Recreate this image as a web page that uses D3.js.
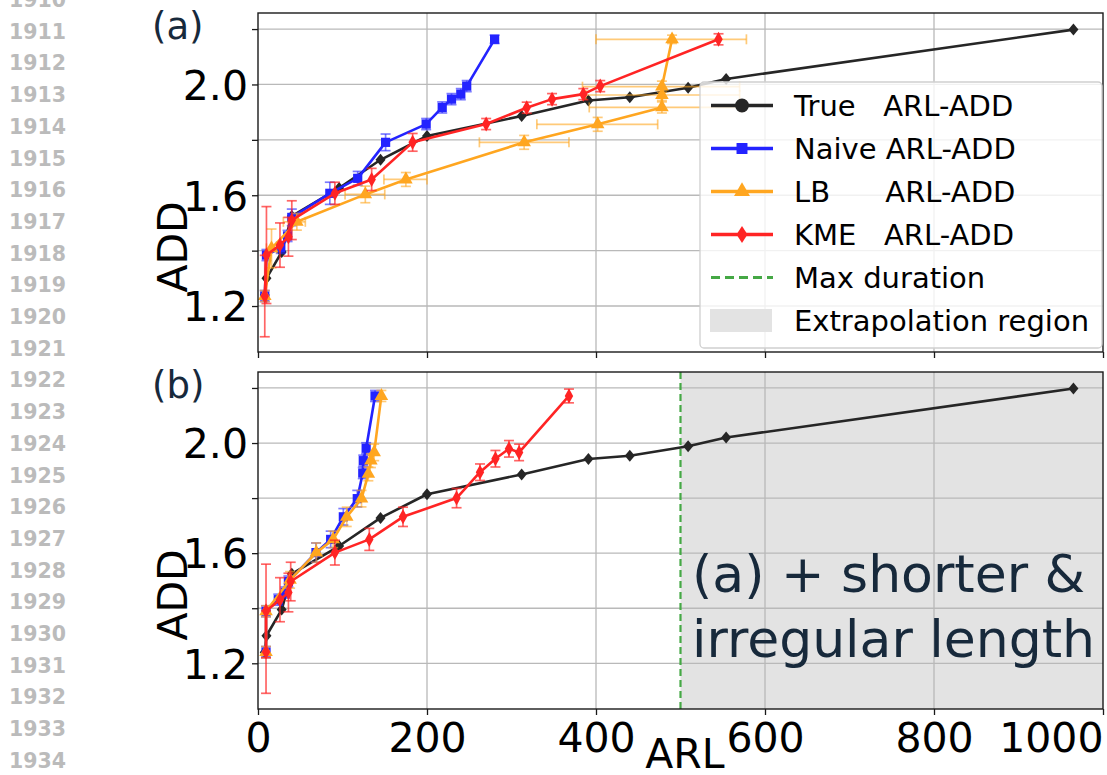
<!DOCTYPE html>
<html><head><meta charset="utf-8">
<script src="https://cdn.jsdelivr.net/npm/d3@7"></script>
<style>
body{margin:0;background:#fff}
svg{display:block}
text{font-family:"DejaVu Sans",sans-serif}
</style>
</head><body>
<svg id="c" width="1107" height="775"></svg>
<script>
// ---------------- data ----------------
const xTicks = [0, 200, 400, 600, 800, 1000];
const yTicks = [1.2, 1.4, 1.6, 1.8, 2.0, 2.2];
const yLabeled = [1.2, 1.6, 2.0];
const lineNumbers = ["1910","1911","1912","1913","1914","1915","1916","1917","1918","1919","1920","1921",
  "1922","1923","1924","1925","1926","1927","1928","1929","1930","1931","1932","1933","1934"];

// True ARL-ADD (same in both panels)
const trueARL = [8, 10, 28, 40, 96, 145, 200, 312, 391, 440, 509, 554, 965];
const trueADD = [1.24, 1.30, 1.395, 1.525, 1.626, 1.728, 1.814, 1.886, 1.942, 1.954, 1.988, 2.02, 2.198];

// Panel (a)
const naiveA_ARL = [8, 10, 27, 35, 40, 85, 118, 151, 199, 218, 229, 240, 247, 280];
const naiveA_ADD = [1.236, 1.384, 1.41, 1.453, 1.52, 1.607, 1.661, 1.791, 1.857, 1.917, 1.947, 1.965, 1.994, 2.163];
const naiveA_err = [0.02, 0.02, 0.02, 0.02, 0.03, 0.04, 0.025, 0.03, 0.02, 0.02, 0.02, 0.02, 0.02, 0.015];

const lbA_ARL = [8, 16, 46, 127, 175, 315, 402, 478, 478, 478, 490];
const lbA_ADD = [1.236, 1.408, 1.504, 1.603, 1.657, 1.791, 1.856, 1.917, 1.962, 1.992, 2.163];
const lbA_err = [0.02, 0.07, 0.03, 0.03, 0.025, 0.025, 0.025, 0.02, 0.02, 0.02, 0.015];
const lbA_lo = [6, 10, 30, 103, 149, 262, 330, 392, 388, 384, 400];
const lbA_hi = [10, 22, 56, 150, 200, 368, 473, 572, 570, 570, 578];

const kmeA_ARL = [8, 10, 26, 36, 40, 91, 134.5, 183, 270, 318, 348, 385, 405, 545];
const kmeA_ADD = [1.236, 1.384, 1.42, 1.45, 1.51, 1.607, 1.657, 1.791, 1.857, 1.916, 1.947, 1.965, 1.994, 2.163];
const kmeA_err = [0.147, 0.175, 0.08, 0.07, 0.07, 0.04, 0.04, 0.032, 0.02, 0.02, 0.02, 0.02, 0.02, 0.02];

// Panel (b)
const naiveB_ARL = [9.5, 9.5, 24, 32, 36, 68.6, 86, 101, 117.5, 124, 124.6, 128, 138.5];
const naiveB_ADD = [1.241, 1.389, 1.431, 1.457, 1.497, 1.602, 1.65, 1.732, 1.798, 1.891, 1.936, 1.981, 2.171];
const naiveB_err = [0.02, 0.02, 0.02, 0.02, 0.02, 0.035, 0.03, 0.03, 0.03, 0.02, 0.02, 0.02, 0.02];

const lbB_ARL = [9.5, 9.5, 38, 69, 89, 105, 122.5, 130.6, 133.6, 137.5, 146];
const lbB_ADD = [1.241, 1.389, 1.503, 1.602, 1.65, 1.732, 1.798, 1.888, 1.936, 1.966, 2.171];
const lbB_err = [0.02, 0.02, 0.03, 0.035, 0.03, 0.035, 0.03, 0.025, 0.025, 0.03, 0.02];

const kmeB_ARL = [9.5, 9.5, 26, 36, 38.7, 91, 131.7, 171.6, 235, 262.7, 281, 297, 309, 368];
const kmeB_ADD = [1.241, 1.39, 1.431, 1.457, 1.497, 1.602, 1.65, 1.732, 1.8, 1.894, 1.943, 1.979, 1.966, 2.171];
const kmeB_err = [0.15, 0.17, 0.08, 0.07, 0.07, 0.045, 0.04, 0.035, 0.035, 0.03, 0.03, 0.03, 0.03, 0.025];

const maxDuration = 500;
const legendLabels = ["True   ARL-ADD", "Naive ARL-ADD", "LB      ARL-ADD", "KME   ARL-ADD", "Max duration", "Extrapolation region"];
const panelLabels = ["(a)", "(b)"];
const noteLines = ["(a) + shorter &", "irregular length"];

// ---------------- drawing ----------------
const svg = d3.select("#c");
const COL = {true:"#262626", naive:"#2323ff", lb:"#ffa620", kme:"#ff2424", green:"#45a845", region:"#e3e3e3", navy:"#17293b"};
const x = d3.scaleLinear().domain([0, 1000]).range([258, 1103]);

// line numbers in the margin
svg.append("g").selectAll("text").data(lineNumbers).join("text")
  .attr("x", 9).attr("y", (d, i) => 7 + i * 31.7)
  .attr("font-family", "Liberation Sans, Arial, sans-serif").attr("font-weight", "bold")
  .attr("font-size", 20.5).attr("fill", "#bbbbbb").text(d => d);

function thinDiamond(w, h) { return `M0,${-h}L${w},0L0,${h}L${-w},0Z`; }
const markers = {
  true: () => thinDiamond(5, 6),
  naive: () => d3.symbol(d3.symbolSquare, 85)(),
  lb: () => d3.symbol(d3.symbolTriangle, 80)(),
  kme: () => thinDiamond(4.2, 7.5)
};

function drawSeries(g, y, xs, ys, key, opt) {
  opt = opt || {};
  const color = COL[key];
  const pts = xs.map((v, i) => ({x: v, y: ys[i], i}));
  const eb = g.append("g").attr("stroke", color).attr("stroke-opacity", key === "kme" ? 0.7 : 0.6)
    .attr("stroke-width", 1.7).attr("fill", "none");
  if (opt.yerr) {
    pts.forEach(p => {
      const e = opt.yerr[p.i];
      const px = x(p.x), y1 = y(p.y - e), y2 = y(p.y + e);
      eb.append("line").attr("x1", px).attr("x2", px).attr("y1", y1).attr("y2", y2);
      eb.append("line").attr("x1", px - 5).attr("x2", px + 5).attr("y1", y1).attr("y2", y1);
      eb.append("line").attr("x1", px - 5).attr("x2", px + 5).attr("y1", y2).attr("y2", y2);
    });
  }
  if (opt.xlo) {
    pts.forEach(p => {
      const py = y(p.y), x1 = x(opt.xlo[p.i]), x2 = x(opt.xhi[p.i]);
      eb.append("line").attr("x1", x1).attr("x2", x2).attr("y1", py).attr("y2", py);
      eb.append("line").attr("x1", x1).attr("x2", x1).attr("y1", py - 5).attr("y2", py + 5);
      eb.append("line").attr("x1", x2).attr("x2", x2).attr("y1", py - 5).attr("y2", py + 5);
    });
  }
  g.append("path").datum(pts)
    .attr("d", d3.line().x(d => x(d.x)).y(d => y(d.y)))
    .attr("fill", "none").attr("stroke", color).attr("stroke-width", 2.6).attr("stroke-linejoin", "round");
  g.append("g").selectAll("path").data(pts).join("path")
    .attr("transform", d => `translate(${x(d.x)},${y(d.y)})`)
    .attr("d", markers[key]()).attr("fill", color);
}

const panels = [
  {top: 13, bottom: 352, label: panelLabels[0], labelY: 39, addY: 247, region: false,
   series: [["true", trueARL, trueADD, {}],
            ["naive", naiveA_ARL, naiveA_ADD, {yerr: naiveA_err}],
            ["lb", lbA_ARL, lbA_ADD, {yerr: lbA_err, xlo: lbA_lo, xhi: lbA_hi}],
            ["kme", kmeA_ARL, kmeA_ADD, {yerr: kmeA_err}]]},
  {top: 372, bottom: 709, label: panelLabels[1], labelY: 398, addY: 595, region: true,
   series: [["true", trueARL, trueADD, {}],
            ["naive", naiveB_ARL, naiveB_ADD, {yerr: naiveB_err}],
            ["lb", lbB_ARL, lbB_ADD, {yerr: lbB_err}],
            ["kme", kmeB_ARL, kmeB_ADD, {yerr: kmeB_err}]]}
];

panels.forEach((P, pi) => {
  const y = d3.scaleLinear().domain([1.034, 2.258]).range([P.bottom, P.top]);
  const g = svg.append("g");
  const x0 = x.range()[0], x1 = x.range()[1];

  if (P.region) {
    g.append("rect").attr("x", x(maxDuration)).attr("y", P.top)
      .attr("width", x1 - x(maxDuration)).attr("height", P.bottom - P.top).attr("fill", COL.region);
  }
  // grid
  g.append("g").selectAll("line").data(yTicks).join("line")
    .attr("x1", x0).attr("x2", x1).attr("y1", d => y(d)).attr("y2", d => y(d))
    .attr("stroke", "#b9b9b9").attr("stroke-width", 1.3);
  g.append("g").selectAll("line").data(xTicks.slice(1, -1)).join("line")
    .attr("x1", d => x(d)).attr("x2", d => x(d)).attr("y1", P.top).attr("y2", P.bottom)
    .attr("stroke", "#b9b9b9").attr("stroke-width", 1.3);

  if (P.region) {
    g.append("line").attr("x1", x(maxDuration)).attr("x2", x(maxDuration))
      .attr("y1", P.top).attr("y2", P.bottom)
      .attr("stroke", COL.green).attr("stroke-width", 2.2).attr("stroke-dasharray", "7,4");
  }

  const sg = g.append("g");
  P.series.forEach(s => drawSeries(sg, y, s[1], s[2], s[0], s[3]));

  // spines
  g.append("rect").attr("x", x0).attr("y", P.top).attr("width", x1 - x0).attr("height", P.bottom - P.top)
    .attr("fill", "none").attr("stroke", "#1a1a1a").attr("stroke-width", 1.4);

  // y axis
  const ya = g.append("g").attr("transform", `translate(${x0},0)`)
    .call(d3.axisLeft(y).tickValues(yTicks).tickSize(6).tickSizeOuter(0).tickPadding(4)
      .tickFormat(d => yLabeled.some(v => Math.abs(v - d) < 1e-9) ? d.toFixed(1) : ""));
  ya.select(".domain").remove();
  ya.selectAll("line").attr("stroke", "#1a1a1a").attr("stroke-width", 1.3);
  ya.selectAll("text").attr("font-size", 41).attr("font-family", "DejaVu Sans").attr("fill", "#000").attr("dy", "0.36em");

  // x axis
  const xa = g.append("g").attr("transform", `translate(0,${P.bottom})`)
    .call(d3.axisBottom(x).tickValues(xTicks).tickSize(6).tickSizeOuter(0).tickPadding(8)
      .tickFormat(d => pi === 1 ? String(d) : ""));
  xa.select(".domain").remove();
  xa.selectAll("line").attr("stroke", "#1a1a1a").attr("stroke-width", 1.3);
  xa.selectAll("text").attr("font-size", 41).attr("font-family", "DejaVu Sans").attr("fill", "#000");
  xa.selectAll(".tick").filter(d => d === 1000).select("text").attr("text-anchor", "end");

  // y label
  g.append("text").attr("transform", `translate(187,${P.addY}) rotate(-90)`)
    .attr("text-anchor", "middle").attr("font-size", 41).attr("fill", "#000").text("ADD");

  // panel label
  g.append("text").attr("x", 152).attr("y", P.labelY).attr("font-size", 37).attr("fill", COL.navy).text(P.label);

  if (pi === 1) {
    g.append("g").selectAll("text").data(noteLines).join("text")
      .attr("x", 692).attr("y", (d, i) => 592 + i * 65)
      .attr("font-size", 52).attr("fill", COL.navy).text(d => d);
    g.append("text").attr("x", 685).attr("y", 768).attr("text-anchor", "middle")
      .attr("font-size", 41).attr("fill", "#000").text("ARL");
  }

  if (pi === 0) {
    // legend
    const L = g.append("g");
    L.append("rect").attr("x", 700).attr("y", 82).attr("width", 402).attr("height", 266).attr("rx", 4)
      .attr("fill", "#fff").attr("fill-opacity", 0.8).attr("stroke", "#cfcfcf").attr("stroke-width", 1.3);
    const keys = ["true", "naive", "lb", "kme", "green", "region"];
    keys.forEach((k, i) => {
      const by = 116 + i * 43, cy = by - 10.5;
      if (k === "region") {
        L.append("rect").attr("x", 710).attr("y", cy - 11.5).attr("width", 62).attr("height", 23).attr("fill", COL.region);
      } else if (k === "green") {
        L.append("line").attr("x1", 711).attr("x2", 773).attr("y1", cy).attr("y2", cy)
          .attr("stroke", COL.green).attr("stroke-width", 3).attr("stroke-dasharray", "9,5");
      } else {
        L.append("line").attr("x1", 711).attr("x2", 773).attr("y1", cy).attr("y2", cy)
          .attr("stroke", COL[k]).attr("stroke-width", 3.4);
        let m;
        if (k === "true") m = d3.symbol(d3.symbolCircle, 150)();
        else if (k === "naive") m = d3.symbol(d3.symbolSquare, 120)();
        else if (k === "lb") m = d3.symbol(d3.symbolTriangle, 110)();
        else m = thinDiamond(5.5, 8.5);
        L.append("path").attr("transform", `translate(742,${cy})`).attr("d", m).attr("fill", COL[k]);
      }
      L.append("text").attr("x", 794).attr("y", by).attr("font-size", 29).attr("fill", "#000")
        .style("white-space", "pre").text(legendLabels[i]);
    });
  }
});
</script>
</body></html>
